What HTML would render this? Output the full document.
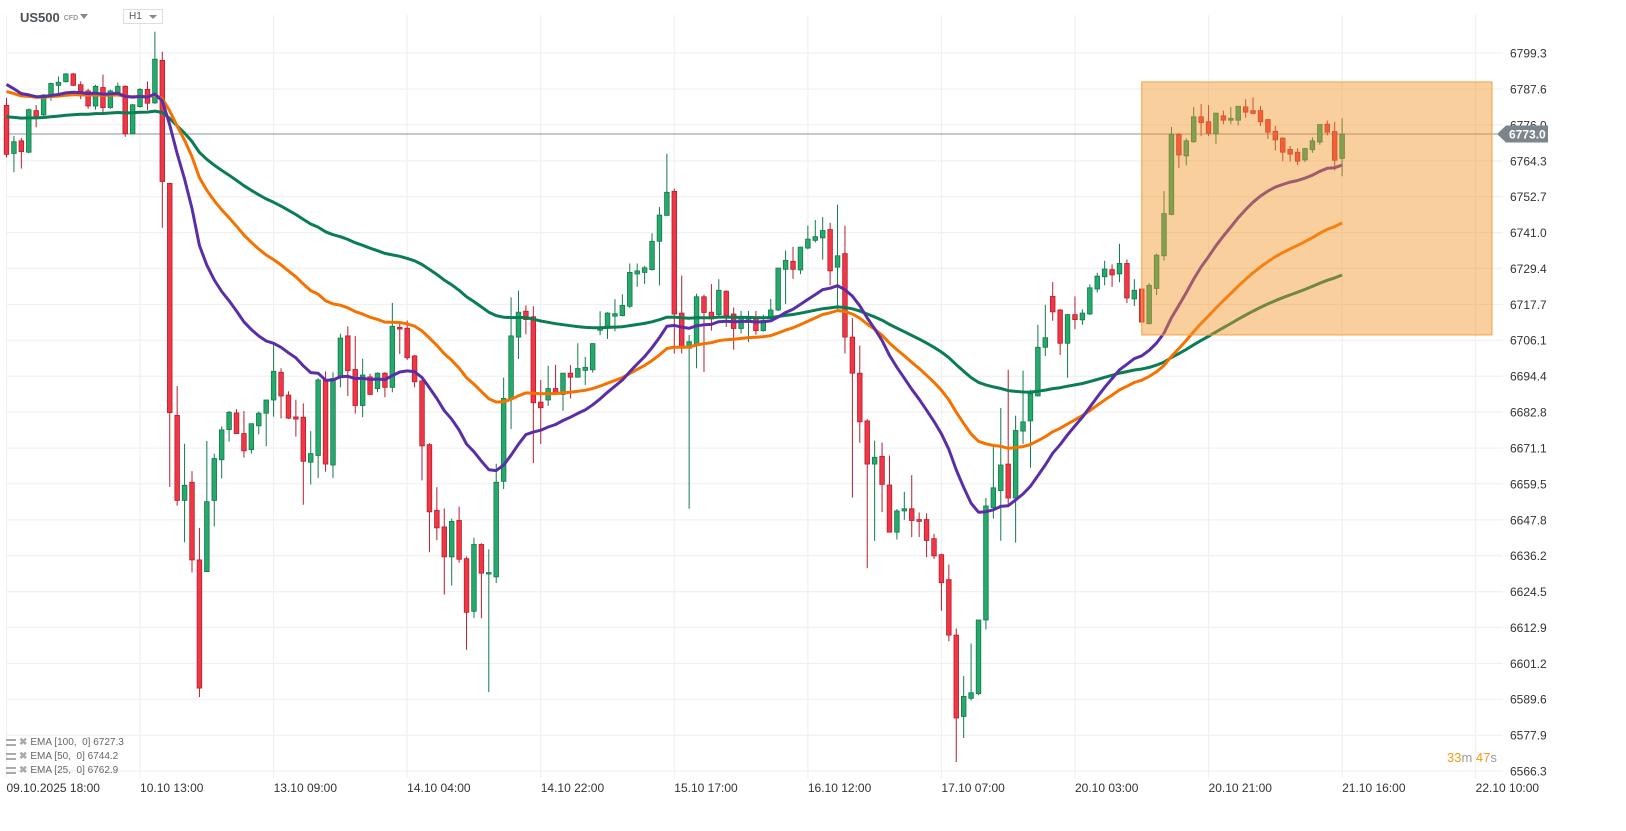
<!DOCTYPE html>
<html><head><meta charset="utf-8">
<style>
html,body{margin:0;padding:0;background:#fff;}
body{width:1626px;height:831px;overflow:hidden;position:relative;font-family:"Liberation Sans",sans-serif;}
svg{position:absolute;left:0;top:0;}
.hdr{position:absolute;left:20px;top:10px;font-size:13px;font-weight:bold;color:#4a4f55;}
.cfd{font-size:7px;color:#999;font-weight:bold;margin-left:4px;vertical-align:middle;}
.dd{position:absolute;left:80px;top:14px;width:0;height:0;border-left:4px solid transparent;border-right:4px solid transparent;border-top:5px solid #888;}
.tf{position:absolute;left:123px;top:9px;width:40px;height:15px;border:1px solid #ddd;background:#fff;font-size:10px;color:#555;box-sizing:border-box;padding:1px 0 0 5px;}
.tf i{position:absolute;right:5px;top:5px;width:0;height:0;border-left:4px solid transparent;border-right:4px solid transparent;border-top:4px solid #888;}
.leg{position:absolute;left:6px;font-size:10px;color:#666;}
.leg b{display:inline-block;width:10px;height:7px;border-top:2px solid #aaa;border-bottom:2px solid #aaa;margin-right:3px;box-sizing:border-box;vertical-align:middle;}
.leg s{text-decoration:none;color:#aaa;font-weight:bold;margin-right:3px;}
.timer{position:absolute;left:1447px;top:750px;font-size:13px;color:#999;}
.timer em{font-style:normal;color:#f39c12;}
</style></head><body>
<svg id="chart" width="1626" height="831"></svg>
<div class="hdr">US500<span class="cfd">CFD</span></div>
<div class="dd"></div>
<div class="tf">H1<i></i></div>
<div class="leg" style="top:737px"><b></b><s>✖</s>EMA [100,&nbsp; 0] 6727.3</div>
<div class="leg" style="top:751px"><b></b><s>✖</s>EMA [50,&nbsp; 0] 6744.2</div>
<div class="leg" style="top:765px"><b></b><s>✖</s>EMA [25,&nbsp; 0] 6762.9</div>
<div class="timer"><em>33</em>m <em>47</em>s</div>
<script>
const opens=[6782.3,6766.7,6770.8,6767.1,6780.6,6779.2,6785.4,6788.8,6790.0,6792.5,6789.0,6787.0,6782.1,6788.1,6781.6,6785.7,6788.5,6773.1,6781.9,6787.5,6783.1,6796.9,6757.0,6681.7,6654.1,6660.0,6634.8,6631.0,6654.1,6667.3,6677.1,6682.5,6675.8,6670.6,6678.3,6682.4,6686.7,6695.7,6688.3,6681.2,6681.1,6666.5,6668.7,6693.1,6665.6,6694.0,6707.5,6696.6,6684.9,6694.2,6690.4,6695.4,6690.8,6710.3,6710.0,6701.0,6692.9,6672.2,6650.9,6645.5,6635.8,6647.6,6635.2,6618.1,6639.8,6630.3,6629.3,6660.3,6687.2,6707.1,6715.5,6713.7,6686.0,6686.7,6690.4,6688.5,6695.4,6694.1,6696.3,6696.5,6709.3,6710.0,6713.9,6714.1,6717.1,6727.6,6728.1,6729.0,6738.2,6746.6,6754.4,6714.9,6703.5,6704.7,6720.2,6715.2,6714.4,6722.0,6714.6,6709.9,6713.0,6713.1,6709.2,6713.2,6715.9,6729.1,6731.7,6728.9,6736.0,6738.5,6739.3,6742.0,6729.8,6734.2,6707.1,6695.4,6679.9,6665.9,6668.4,6659.1,6643.8,6650.7,6651.4,6647.9,6647.9,6641.7,6636.5,6628.4,6610.4,6584.0,6589.9,6591.4,6615.3,6651.8,6657.3,6665.9,6654.9,6676.6,6679.9,6688.0,6703.8,6720.3,6715.9,6705.1,6714.4,6712.7,6714.6,6722.7,6726.7,6729.0,6727.6,6731.0,6719.5,6722.7,6711.5,6722.9,6733.5,6746.9,6772.9,6765.9,6770.5,6778.6,6777.0,6773.1,6778.9,6777.5,6777.5,6781.8,6780.6,6780.6,6777.7,6773.9,6771.7,6768.0,6767.1,6764.6,6767.9,6770.4,6776.2,6773.8,6765.1];
const highs=[6784.7,6772.4,6771.7,6781.3,6782.4,6785.9,6789.7,6791.7,6792.8,6792.8,6790.1,6787.7,6789.0,6792.3,6787.4,6789.7,6788.8,6782.8,6787.9,6790.1,6806.2,6799.7,6757.0,6691.2,6672.5,6663.6,6645.2,6673.4,6669.3,6678.1,6683.1,6683.7,6683.1,6679.0,6683.0,6686.7,6704.8,6697.0,6689.5,6686.8,6685.6,6676.6,6693.8,6696.0,6695.7,6708.2,6710.6,6707.5,6700.1,6695.2,6695.7,6695.7,6718.2,6711.4,6712.5,6701.3,6693.1,6672.7,6658.4,6651.5,6648.2,6652.1,6635.9,6642.0,6640.2,6638.2,6666.0,6694.0,6720.0,6722.2,6717.4,6717.1,6693.2,6697.8,6698.1,6695.4,6698.0,6705.1,6700.7,6705.1,6715.5,6715.2,6719.4,6721.0,6731.0,6731.0,6730.2,6740.8,6749.3,6766.6,6755.3,6727.1,6707.8,6721.2,6720.9,6724.3,6725.9,6722.3,6716.7,6715.6,6715.6,6715.6,6714.4,6719.5,6729.5,6735.2,6736.4,6736.3,6743.3,6745.1,6746.1,6744.2,6750.1,6743.3,6713.3,6704.4,6680.5,6673.5,6672.9,6668.7,6651.3,6656.9,6662.3,6650.2,6649.9,6643.3,6636.8,6633.3,6612.6,6597.1,6607.7,6615.3,6654.9,6671.4,6684.1,6696.5,6681.6,6696.2,6690.0,6711.1,6717.6,6725.0,6716.2,6714.6,6720.3,6716.1,6724.2,6728.0,6731.9,6730.7,6737.4,6732.3,6725.9,6723.0,6724.6,6734.2,6754.5,6775.3,6773.3,6771.6,6781.8,6782.7,6782.4,6779.8,6780.6,6781.8,6782.0,6784.3,6784.9,6782.1,6777.9,6775.6,6771.9,6769.1,6768.4,6768.5,6771.9,6776.1,6777.4,6777.0,6778.1];
const lows=[6765.4,6760.6,6761.8,6766.8,6775.2,6778.9,6783.8,6786.3,6789.7,6788.5,6784.3,6781.2,6780.9,6779.2,6781.2,6785.4,6772.1,6773.1,6781.6,6780.8,6782.8,6742.6,6658.5,6652.4,6640.5,6630.7,6590.3,6631.0,6645.6,6661.2,6673.2,6675.8,6668.0,6669.3,6675.5,6671.7,6681.3,6680.7,6680.5,6674.8,6652.7,6659.3,6661.4,6663.4,6661.4,6690.8,6688.0,6682.3,6681.1,6688.3,6689.2,6687.6,6689.2,6701.6,6699.7,6690.8,6660.6,6637.3,6641.2,6623.5,6626.5,6633.9,6605.6,6615.9,6615.9,6591.9,6627.3,6657.8,6677.3,6700.0,6708.0,6666.2,6672.4,6684.8,6688.5,6683.2,6687.2,6694.1,6691.6,6695.6,6707.7,6706.5,6709.0,6713.8,6716.5,6723.4,6724.3,6728.7,6723.9,6746.6,6701.8,6701.8,6651.4,6697.0,6695.8,6709.2,6713.6,6710.4,6703.0,6708.3,6705.5,6707.9,6708.9,6712.0,6715.6,6717.9,6726.0,6727.5,6735.6,6737.8,6732.2,6723.9,6716.1,6701.8,6655.0,6672.8,6632.1,6641.0,6650.3,6643.8,6641.4,6647.8,6642.2,6642.2,6635.7,6635.1,6618.3,6608.4,6569.2,6577.0,6589.2,6590.9,6612.2,6648.2,6641.0,6652.8,6640.4,6672.5,6664.7,6688.0,6701.0,6712.4,6701.3,6693.9,6709.7,6711.1,6714.3,6721.6,6723.9,6723.4,6724.9,6718.2,6717.2,6711.7,6711.2,6720.7,6731.9,6746.6,6762.0,6762.8,6770.2,6772.3,6772.3,6769.8,6776.2,6776.2,6775.8,6778.3,6779.4,6775.6,6771.4,6767.6,6764.2,6764.1,6762.9,6763.9,6766.9,6769.5,6772.6,6761.2,6759.3];
const closes=[6766.4,6770.5,6767.3,6780.9,6778.2,6785.7,6789.4,6789.8,6792.5,6788.8,6785.4,6782.1,6788.5,6781.6,6787.0,6788.5,6773.1,6782.5,6787.5,6783.0,6797.3,6757.6,6682.6,6654.1,6659.0,6634.8,6593.2,6653.7,6667.7,6677.0,6682.7,6675.8,6670.2,6679.0,6682.4,6686.7,6696.0,6688.0,6680.8,6680.5,6666.8,6669.3,6693.2,6665.9,6693.7,6706.8,6696.2,6684.9,6694.8,6688.5,6695.4,6690.8,6710.6,6709.7,6700.4,6692.6,6671.8,6650.4,6645.2,6635.8,6647.3,6635.0,6617.8,6639.8,6630.5,6630.7,6660.0,6687.2,6707.5,6715.2,6712.8,6685.8,6684.2,6690.4,6688.8,6695.4,6694.1,6696.9,6697.3,6705.0,6710.1,6714.9,6714.7,6717.4,6728.1,6728.6,6729.6,6738.2,6746.7,6754.1,6714.6,6703.5,6705.6,6720.2,6715.1,6713.0,6722.3,6714.1,6709.9,6713.3,6713.4,6709.2,6712.5,6715.9,6729.5,6732.0,6729.1,6736.3,6738.9,6739.7,6741.7,6728.6,6733.5,6707.1,6695.4,6679.6,6665.9,6668.1,6659.3,6643.8,6650.7,6651.4,6647.6,6647.3,6641.1,6636.1,6627.4,6610.4,6583.5,6590.5,6591.7,6615.3,6652.3,6658.2,6665.6,6654.9,6676.8,6679.6,6688.7,6703.8,6706.9,6715.3,6705.1,6714.4,6712.8,6714.9,6723.1,6726.9,6729.2,6727.3,6731.0,6719.8,6722.3,6712.0,6723.9,6733.7,6747.2,6772.9,6766.2,6770.8,6778.6,6776.7,6773.3,6779.8,6777.5,6778.1,6782.0,6780.1,6779.7,6777.0,6773.6,6771.1,6767.1,6766.5,6764.2,6768.3,6770.8,6776.1,6773.6,6764.5,6773.0];
const emaPeriods=[100,50,25];
const emaSeeds=[6778.8,6787.6,6791.0];
const yTicks=[6799.3,6787.6,6776.0,6764.3,6752.7,6741.0,6729.4,6717.7,6706.1,6694.4,6682.8,6671.1,6659.5,6647.8,6636.2,6624.5,6612.9,6601.2,6589.6,6577.9,6566.3];
const xLabels=["09.10.2025  18:00","10.10  13:00","13.10  09:00","14.10  04:00","14.10  22:00","15.10  17:00","16.10  12:00","17.10  07:00","20.10  03:00","20.10  21:00","21.10  16:00","22.10  10:00"];
const xLabelIdx=[0,18,36,54,72,90,108,126,144,162,180,198];
const lastPrice=6773.0;
const boxRange=[153,200.2,6789.9,6707.8];

const NS="http://www.w3.org/2000/svg";
const svg=document.getElementById('chart');
const X0=6.5,DX=7.42,PLOT_R=1495;
function xS(i){return X0+i*DX;}
function yS(v){return 53+(6799.3-v)*3.0815;}
function mk(tag,attrs,parent){const e=document.createElementNS(NS,tag);for(const k in attrs)e.setAttribute(k,attrs[k]);(parent||svg).appendChild(e);return e;}

const grid=mk('g',{});


yTicks.forEach(v=>{
  const l=mk('line',{x1:6,x2:1503,y1:yS(v),y2:yS(v),stroke:'#f0f0f0','stroke-width':1.2},grid);
  
  
  const t=mk('text',{x:1510,y:yS(v)+4.5,'font-size':12,fill:'#333','font-family':'Liberation Sans, sans-serif'});
  t.textContent=v.toFixed(1);
  
  
});
xLabelIdx.forEach((ix,k)=>{
  const x=xS(ix);
  if(x<PLOT_R){
    const l=mk('line',{x1:x,x2:x,y1:15,y2:778,stroke:'#f0f0f0','stroke-width':1.2},grid);
    
    
  }
  const t=mk('text',{x:x,y:792,'font-size':12,fill:'#333','font-family':'Liberation Sans, sans-serif','xml:space':'preserve'});
  t.textContent=xLabels[k];
  
  
});

// price line
const pl=mk('line',{x1:6,x2:1497,y1:yS(lastPrice),y2:yS(lastPrice),stroke:'#8a9399','stroke-width':1});



// candles
const cg=mk('g',{});


for(let i=0;i<closes.length;i++){
  const up=closes[i]>=opens[i];
  const fill=up?'#26a96c':'#f23645',stroke=up?'#137a4a':'#b3202e';
  const x=xS(i);
  const w=mk('line',{x1:x,x2:x,y1:yS(highs[i]),y2:yS(lows[i]),stroke:stroke,'stroke-width':1},cg);
  
  
  const top=yS(Math.max(opens[i],closes[i])),bot=yS(Math.min(opens[i],closes[i]));
  const r=mk('rect',{x:x-2.3,y:top,width:4.6,height:Math.max(1.5,bot-top),fill:fill,stroke:stroke,'stroke-width':0.8},cg);
  
  
}

// EMAs
const emaColors=['#0a7d55','#f57200','#5a2ea6'];
emaPeriods.forEach((p,k)=>{
  const a=2/(p+1);let e=emaSeeds[k];const pts=[];
  for(let i=0;i<closes.length;i++){e=a*closes[i]+(1-a)*e;pts.push(xS(i).toFixed(1)+','+yS(e).toFixed(1));}
  const pth=mk('polyline',{points:pts.join(' '),fill:'none',stroke:emaColors[k],'stroke-width':3,'stroke-linejoin':'round'});
  
  
});

// highlight box
const bx=mk('rect',{x:xS(boxRange[0]),y:yS(boxRange[2]),width:xS(boxRange[1])-xS(boxRange[0]),height:yS(boxRange[3])-yS(boxRange[2]),fill:'rgba(244,148,40,0.45)',stroke:'#f5a040','stroke-width':1});



// price label
const yl=yS(lastPrice);
const lab=mk('path',{d:`M1497 ${yl} L1506 ${yl-8.5} L1548 ${yl-8.5} L1548 ${yl+8.5} L1506 ${yl+8.5} Z`,fill:'#7b868c'});


const lt=mk('text',{x:1509,y:yl+4.5,'font-size':12,'font-weight':'bold',fill:'#fff','font-family':'Liberation Sans, sans-serif'});
lt.textContent=lastPrice.toFixed(1);


</script>
</body></html>
